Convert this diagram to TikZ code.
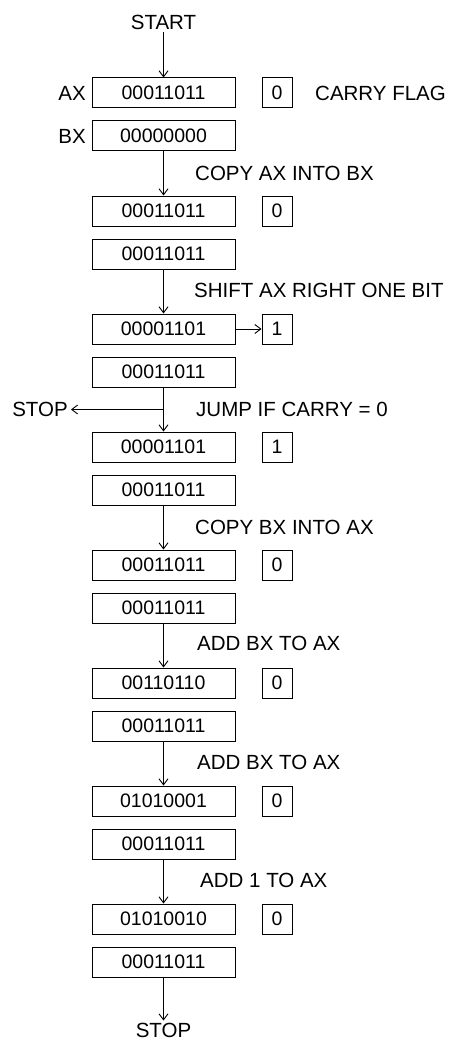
\documentclass[tikz,border=0pt]{standalone}
\usepackage{fontspec}
\setmainfont{Liberation Sans}
\usetikzlibrary{arrows.meta}
\newcommand{\lblsz}{\fontsize{20.5}{24}\selectfont}
\newcommand{\digsz}{\fontsize{19.5}{22}\selectfont}
\tikzset{
  reg/.style={draw, line width=1pt, minimum width=143pt, minimum height=30pt, inner sep=0pt, font=\digsz},
  flagbox/.style={draw, line width=1pt, minimum width=30pt, minimum height=30pt, inner sep=0pt, font=\digsz},
  lbl/.style={anchor=base west, yshift=-7.3pt, inner sep=0pt, font=\lblsz},
  txt/.style={inner sep=3pt, font=\lblsz},
  arr/.style={-{Straight Barb[length=6pt,width=9pt]}, line width=0.9pt}
}
\begin{document}
\begin{tikzpicture}[x=1pt,y=-1pt]
\fill[white] (0,0) rectangle (448,1043);
\useasboundingbox (0,0) rectangle (448,1043);

% START
\node[txt] (start) at (163.5,22) {START};

% rows
\node[reg] (a1) at (163.5,93) {00011011};
\node[reg] (b1) at (163.5,136) {00000000};
\node[flagbox] (f1) at (277,93) {0};
\node[anchor=east, inner sep=0pt, font=\lblsz] (ax) at (86,93) {AX};
\node[anchor=east, inner sep=0pt, font=\lblsz] (bx) at (86,136) {BX};
\node[anchor=west, inner sep=0pt, font=\lblsz] (cf) at (315,93) {CARRY FLAG};

\node[reg] (a2) at (163.5,211) {00011011};
\node[reg] (b2) at (163.5,254) {00011011};
\node[flagbox] (f2) at (277,211) {0};

\node[reg] (a3) at (163.5,329) {00001101};
\node[reg] (b3) at (163.5,372) {00011011};
\node[flagbox] (f3) at (277,329) {1};

\node[reg] (a4) at (163.5,447) {00001101};
\node[reg] (b4) at (163.5,490) {00011011};
\node[flagbox] (f4) at (277,447) {1};

\node[reg] (a5) at (163.5,565) {00011011};
\node[reg] (b5) at (163.5,608) {00011011};
\node[flagbox] (f5) at (277,565) {0};

\node[reg] (a6) at (163.5,683) {00110110};
\node[reg] (b6) at (163.5,726) {00011011};
\node[flagbox] (f6) at (277,683) {0};

\node[reg] (a7) at (163.5,801) {01010001};
\node[reg] (b7) at (163.5,844) {00011011};
\node[flagbox] (f7) at (277,801) {0};

\node[reg] (a8) at (163.5,919) {01010010};
\node[reg] (b8) at (163.5,962) {00011011};
\node[flagbox] (f8) at (277,919) {0};

\node[txt, inner sep=2pt] (stop) at (163.5,1030) {STOP};
\node[txt] (stopl) at (40,409.5) {STOP};

% labels
\node[lbl] (l1) at (195,173.5) {COPY AX INTO BX};
\node[lbl] (l2) at (194,290) {SHIFT AX RIGHT ONE BIT};
\node[lbl] (l3) at (196,409.5) {JUMP IF CARRY = 0};
\node[lbl] (l4) at (195,527.5) {COPY BX INTO AX};
\node[lbl] (l5) at (197,643) {ADD BX TO AX};
\node[lbl] (l6) at (197,762) {ADD BX TO AX};
\node[lbl] (l7) at (200,880) {ADD 1 TO AX};

% connectors
\draw[arr] (start) -- (a1);
\draw[arr] (b1) -- (a2);
\draw[arr] (b2) -- (a3);
\draw[arr] (b3) -- (a4);
\draw[arr] (b4) -- (a5);
\draw[arr] (b5) -- (a6);
\draw[arr] (b6) -- (a7);
\draw[arr] (b7) -- (a8);
\draw[arr] (b8) -- (stop);
\draw[arr] (a3) -- (f3);
\coordinate (jmp) at (163.5,409.5);
\draw[arr] (jmp) -- (stopl);
\end{tikzpicture}
\end{document}
